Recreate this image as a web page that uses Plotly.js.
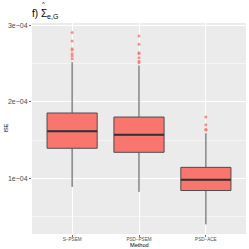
<!DOCTYPE html>
<html>
<head>
<meta charset="utf-8">
<script src="https://cdn.plot.ly/plotly-3.0.1.min.js"></script>
<style>html,body{margin:0;padding:0;background:#fff;}#chart{width:249px;height:249px;}</style>
</head>
<body>
<div id="chart"></div>
<script>
var methods = ["S\u2212PSEM", "PSD\u2212PSEM", "PSD\u2212ACE"];
var q1 = [1.392e-4, 1.339e-4, 0.837e-4];
var median = [1.617e-4, 1.568e-4, 0.978e-4];
var q3 = [1.855e-4, 1.802e-4, 1.141e-4];
var lowerWhisker = [0.885e-4, 0.819e-4, 0.392e-4];
var upperWhisker = [2.523e-4, 2.480e-4, 1.590e-4];
var outliersSPSEM = [2.911e-4, 2.801e-4, 2.700e-4, 2.682e-4, 2.634e-4, 2.602e-4, 2.568e-4];
var outliersPSDPSEM = [2.867e-4, 2.757e-4, 2.647e-4, 2.634e-4, 2.581e-4, 2.536e-4, 2.515e-4];
var outliersPSDACE = [1.802e-4, 1.700e-4, 1.643e-4, 1.630e-4];
var yTickVals = [1e-4, 2e-4, 3e-4];
var yTickText = ["1e\u221204", "2e\u221204", "3e\u221204"];

var outX = [], outY = [];
[outliersSPSEM, outliersPSDPSEM, outliersPSDACE].forEach(function(arr, i){
  arr.forEach(function(v){ outX.push(methods[i]); outY.push(v); });
});

var traces = [
  {
    type: "box",
    x: methods,
    q1: q1, median: median, q3: q3,
    lowerfence: lowerWhisker, upperfence: upperWhisker,
    boxpoints: false,
    width: 0.75,
    fillcolor: "#F8766D",
    line: {color: "#4D4D4D", width: 1},
    whiskerwidth: 0,
    hoverinfo: "none",
    showlegend: false
  },
  {
    type: "scatter", mode: "markers",
    x: methods, y: median,
    marker: {symbol: "line-ew", size: 35.7, color: "#333333", line: {color: "#333333", width: 2}},
    hoverinfo: "none", showlegend: false
  },
  {
    type: "scatter", mode: "markers",
    x: outX, y: outY,
    marker: {symbol: "circle", size: 3, color: "#F8766D", opacity: 0.8},
    hoverinfo: "none", showlegend: false
  }
];

var plotL = 32, plotR = 246, plotT = 23, plotB = 234;
function px2x(px){ return (px - plotL) / (plotR - plotL); }
function px2y(py){ return (plotB - py) / (plotB - plotT); }

var layout = {
  width: 249, height: 249,
  margin: {l: plotL, r: 249 - plotR, t: plotT, b: 249 - plotB},
  paper_bgcolor: "#ffffff",
  plot_bgcolor: "#EBEBEB",
  font: {family: "Liberation Sans, Arial, sans-serif", color: "#000000"},
  xaxis: {
    type: "category",
    range: [-0.6, 2.6],
    showgrid: true, gridcolor: "#FFFFFF", gridwidth: 1,
    zeroline: false, showline: false,
    ticks: "outside", ticklen: 2, tickcolor: "#333333", tickwidth: 0.7,
    ticklabelstandoff: -2,
    tickfont: {size: 4.6, color: "#4D4D4D"},
    automargin: false, fixedrange: true
  },
  yaxis: {
    range: [0.266e-4, 3.037e-4],
    tickvals: yTickVals, ticktext: yTickText,
    showgrid: true, gridcolor: "#FFFFFF", gridwidth: 1,
    minor: {dtick: 0.5e-4, tick0: 0, showgrid: true, gridcolor: "#FFFFFF", gridwidth: 0.5},
    zeroline: false, showline: false,
    ticks: "outside", ticklen: 2, tickcolor: "#333333", tickwidth: 0.7,
    tickfont: {size: 7, color: "#4D4D4D"},
    automargin: false, fixedrange: true
  },
  annotations: [
    {text: "Method", xref: "paper", yref: "paper", x: 0.5, y: px2y(245),
     xanchor: "center", yanchor: "middle", showarrow: false,
     font: {size: 5.6, color: "#000000"}},
    {text: "ISE", xref: "paper", yref: "paper", x: px2x(5), y: 0.5, textangle: -90,
     xanchor: "center", yanchor: "middle", showarrow: false,
     font: {size: 5.6, color: "#000000"}},
    {text: "f) \u03A3<sub>e,G</sub>", xref: "paper", yref: "paper", x: px2x(30), y: px2y(13.5),
     xanchor: "left", yanchor: "middle", showarrow: false,
     font: {size: 10, color: "#000000"}},
    {text: "^", xref: "paper", yref: "paper", x: px2x(43), y: px2y(4),
     xanchor: "center", yanchor: "middle", showarrow: false,
     font: {size: 6, color: "#000000"}}
  ]
};

Plotly.newPlot("chart", traces, layout, {staticPlot: true, displayModeBar: false});
</script>
</body>
</html>
